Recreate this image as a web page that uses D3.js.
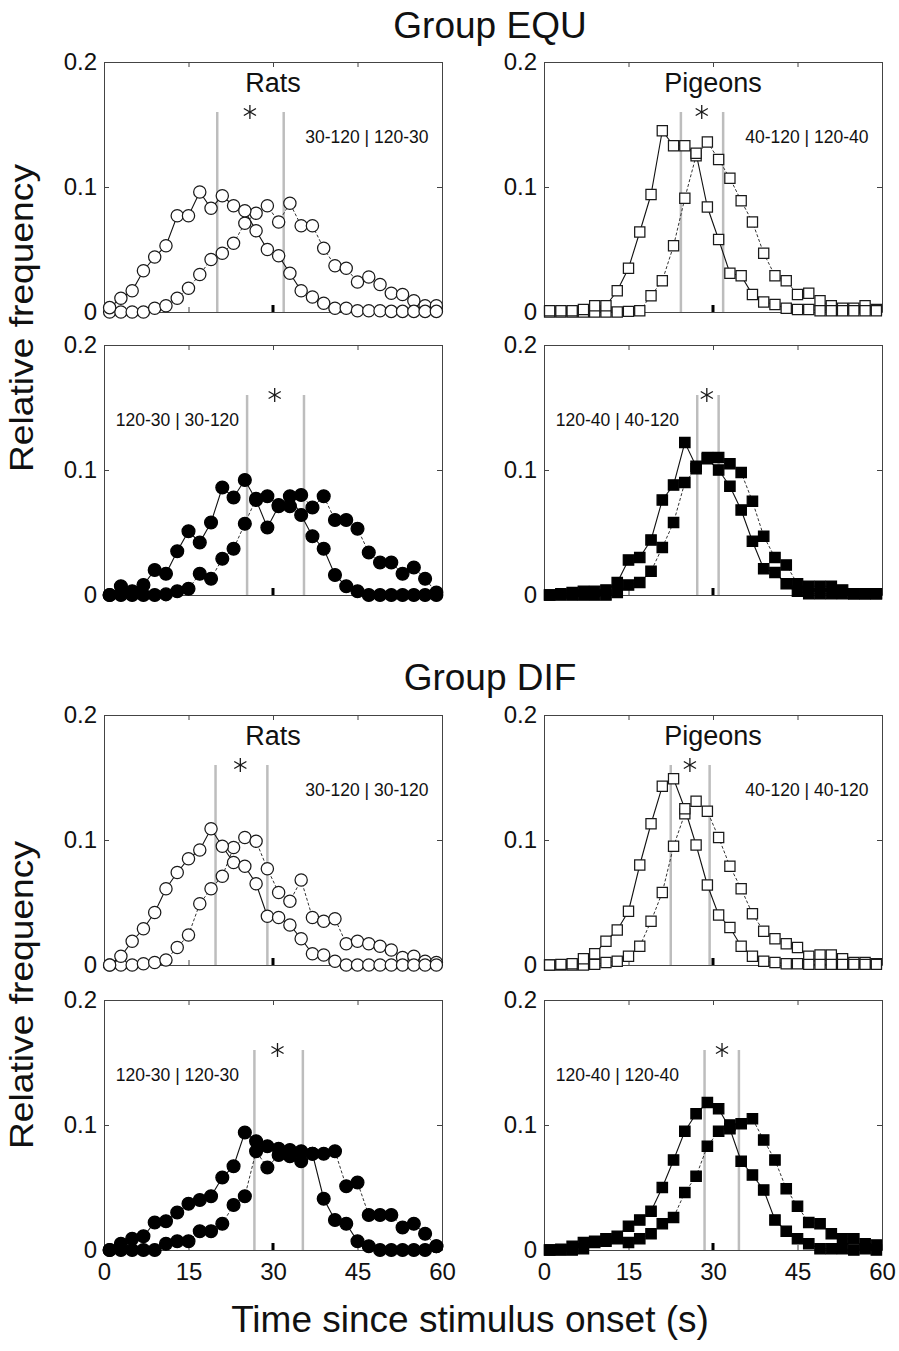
<!DOCTYPE html>
<html>
<head>
<meta charset="utf-8">
<script src="https://cdn.jsdelivr.net/npm/d3@7"></script>
<style>
body { margin: 0; background: #fff; }
text { font-family: "Liberation Sans", Arial, Helvetica, sans-serif; fill: #111; }
</style>
</head>
<body>
<div class="graph"></div>
<script>
// Time bins (s)
var times = [1, 3, 5, 7, 9, 11, 13, 15, 17, 19, 21, 23, 25, 27, 29,
             31, 33, 35, 37, 39, 41, 43, 45, 47, 49, 51, 53, 55, 57, 59];

var xTicks = [0, 15, 30, 45, 60];
var xTickLabels = ["0", "15", "30", "45", "60"];
var yTicks = [0, 0.1, 0.2];
var yTickLabels = ["0", "0.1", "0.2"];

var groupTitles = ["Group EQU", "Group DIF"];
var speciesNames = ["Rats", "Pigeons"];
var conditionLabels = [
    "30-120 | 120-30", "40-120 | 120-40",
    "120-30 | 30-120", "120-40 | 40-120",
    "30-120 | 30-120", "40-120 | 40-120",
    "120-30 | 120-30", "120-40 | 120-40"
];

// Grey vertical lines and asterisk position per panel
var greyLines = [[20.1, 31.9], [24.3, 31.8], [25.4, 35.5], [27.2, 31.0],
                 [19.8, 29.0], [22.5, 29.4], [26.7, 35.3], [28.5, 34.6]];
var asteriskTimes = [25.9, 28.0, 30.3, 28.9, 24.2, 25.9, 30.8, 31.6];
var greyTop = 0.16;
var referenceTime = 30;

// Group EQU
var equRatsOpenSolid = [0.0035, 0.011, 0.017, 0.033, 0.044, 0.053, 0.077, 0.077, 0.096, 0.083, 0.093, 0.085, 0.081, 0.065, 0.050,
                        0.045, 0.031, 0.017, 0.012, 0.007, 0.003, 0.003, 0.001, 0.001, 0.001, 0.0005, 0.0005, 0.0005, 0.0005, 0.0005];
var equRatsOpenDashed = [0, 0, 0, 0, 0.003, 0.005, 0.011, 0.019, 0.030, 0.042, 0.047, 0.055, 0.071, 0.079, 0.085,
                         0.072, 0.087, 0.069, 0.069, 0.051, 0.037, 0.035, 0.024, 0.028, 0.022, 0.015, 0.014, 0.009, 0.005, 0.005];
var equPigeonsOpenSolid = [0.001, 0.001, 0.001, 0.002, 0.005, 0.005, 0.017, 0.035, 0.064, 0.094, 0.145, 0.133, 0.133, 0.127, 0.084,
                           0.058, 0.031, 0.029, 0.014, 0.008, 0.006, 0.003, 0.002, 0.002, 0.001, 0.001, 0.001, 0.001, 0.001, 0.001];
var equPigeonsOpenDashed = [0, 0, 0, 0, 0, 0, 0, 0.0005, 0.001, 0.013, 0.025, 0.053, 0.091, 0.125, 0.136,
                            0.122, 0.107, 0.089, 0.072, 0.047, 0.029, 0.025, 0.014, 0.015, 0.009, 0.005, 0.003, 0.003, 0.005, 0.002];
var equRatsFilledSolid = [0, 0.007, 0.003, 0.008, 0.020, 0.017, 0.035, 0.051, 0.042, 0.058, 0.086, 0.078, 0.092, 0.076, 0.054,
                          0.071, 0.079, 0.064, 0.047, 0.037, 0.016, 0.007, 0.003, 0, 0, 0, 0, 0, 0, 0];
var equRatsFilledDashed = [0, 0, 0, 0, 0, 0.0005, 0.003, 0.005, 0.017, 0.013, 0.029, 0.037, 0.057, 0.077, 0.079,
                           0.072, 0.071, 0.080, 0.070, 0.079, 0.060, 0.060, 0.053, 0.034, 0.026, 0.026, 0.017, 0.022, 0.013, 0.002];
var equPigeonsFilledSolid = [0, 0.001, 0.002, 0.003, 0.003, 0.004, 0.010, 0.028, 0.030, 0.044, 0.076, 0.088, 0.122, 0.103, 0.109,
                             0.100, 0.087, 0.068, 0.043, 0.021, 0.018, 0.009, 0.003, 0.001, 0.001, 0.001, 0.001, 0.001, 0.001, 0.001];
var equPigeonsFilledDashed = [0, 0, 0, 0, 0, 0, 0.002, 0.008, 0.010, 0.019, 0.038, 0.058, 0.090, 0.101, 0.110,
                              0.110, 0.105, 0.098, 0.075, 0.047, 0.030, 0.024, 0.009, 0.007, 0.007, 0.007, 0.004, 0.001, 0.001, 0.001];

// Group DIF
var difRatsOpenSolid = [0, 0.007, 0.019, 0.029, 0.042, 0.061, 0.074, 0.085, 0.092, 0.109, 0.095, 0.082, 0.079, 0.065, 0.039,
                        0.038, 0.032, 0.021, 0.009, 0.008, 0.003, 0, 0, 0, 0, 0, 0, 0, 0, 0];
var difRatsOpenDashed = [0, 0, 0, 0.001, 0.002, 0.004, 0.014, 0.024, 0.049, 0.061, 0.071, 0.094, 0.102, 0.099, 0.077,
                         0.058, 0.051, 0.068, 0.038, 0.035, 0.037, 0.017, 0.019, 0.017, 0.015, 0.012, 0.006, 0.007, 0.003, 0.002];
var difPigeonsOpenSolid = [0, 0.0005, 0.001, 0.005, 0.009, 0.019, 0.028, 0.043, 0.080, 0.113, 0.143, 0.149, 0.125, 0.096, 0.064,
                           0.040, 0.030, 0.015, 0.007, 0.003, 0.002, 0.001, 0.001, 0.0005, 0.0005, 0.0005, 0.0005, 0.0005, 0.0005, 0.0005];
var difPigeonsOpenDashed = [0, 0, 0, 0, 0.0005, 0.002, 0.003, 0.007, 0.015, 0.035, 0.058, 0.095, 0.121, 0.131, 0.123,
                            0.102, 0.079, 0.061, 0.041, 0.027, 0.021, 0.017, 0.014, 0.007, 0.008, 0.008, 0.005, 0.002, 0.002, 0.001];
var difRatsFilledSolid = [0, 0.005, 0.009, 0.011, 0.022, 0.023, 0.030, 0.037, 0.040, 0.043, 0.058, 0.067, 0.094, 0.087, 0.083,
                          0.081, 0.080, 0.079, 0.077, 0.041, 0.024, 0.021, 0.007, 0.003, 0, 0, 0, 0, 0, 0.003];
var difRatsFilledDashed = [0, 0, 0, 0, 0, 0.005, 0.007, 0.007, 0.015, 0.015, 0.021, 0.036, 0.043, 0.079, 0.066,
                           0.076, 0.075, 0.071, 0.077, 0.077, 0.079, 0.051, 0.054, 0.028, 0.028, 0.028, 0.018, 0.021, 0.013, 0.003];
var difPigeonsFilledSolid = [0, 0.0005, 0.003, 0.006, 0.006, 0.007, 0.011, 0.019, 0.024, 0.031, 0.050, 0.072, 0.095, 0.109, 0.118,
                             0.113, 0.097, 0.071, 0.060, 0.048, 0.024, 0.015, 0.009, 0.005, 0.001, 0.001, 0.001, 0, 0.001, 0];
var difPigeonsFilledDashed = [0, 0, 0, 0.001, 0.007, 0.009, 0.009, 0.006, 0.009, 0.013, 0.021, 0.026, 0.046, 0.059, 0.083,
                              0.095, 0.100, 0.101, 0.105, 0.088, 0.072, 0.049, 0.035, 0.022, 0.021, 0.013, 0.009, 0.009, 0.005, 0.004];

// Layout
var width = 899, height = 1351;
var colX = [104, 544];
var rowY = [62, 345, 715, 1000];
var panelW = 338, panelH = 250;
var axisColour = "#444";
var greyColour = "#bdbdbd";

var svg = d3.select(".graph").append("svg")
    .attr("width", width)
    .attr("height", height)
    .style("display", "block");

var panels = [
    {row: 0, col: 0, solid: equRatsOpenSolid, dashed: equRatsOpenDashed, shape: d3.symbolCircle, filled: false},
    {row: 0, col: 1, solid: equPigeonsOpenSolid, dashed: equPigeonsOpenDashed, shape: d3.symbolSquare, filled: false},
    {row: 1, col: 0, solid: equRatsFilledSolid, dashed: equRatsFilledDashed, shape: d3.symbolCircle, filled: true},
    {row: 1, col: 1, solid: equPigeonsFilledSolid, dashed: equPigeonsFilledDashed, shape: d3.symbolSquare, filled: true},
    {row: 2, col: 0, solid: difRatsOpenSolid, dashed: difRatsOpenDashed, shape: d3.symbolCircle, filled: false},
    {row: 2, col: 1, solid: difPigeonsOpenSolid, dashed: difPigeonsOpenDashed, shape: d3.symbolSquare, filled: false},
    {row: 3, col: 0, solid: difRatsFilledSolid, dashed: difRatsFilledDashed, shape: d3.symbolCircle, filled: true},
    {row: 3, col: 1, solid: difPigeonsFilledSolid, dashed: difPigeonsFilledDashed, shape: d3.symbolSquare, filled: true}
];

var x = d3.scaleLinear().domain([0, 60]).range([0, panelW]);
var y = d3.scaleLinear().domain([0, 0.2]).range([panelH, 0]);

function styleAxis(sel) {
    sel.select(".domain").attr("stroke", axisColour);
    sel.selectAll(".tick line").attr("stroke", axisColour);
    sel.selectAll(".tick text")
        .style("font-family", '"Liberation Sans", Arial, sans-serif')
        .style("font-size", "24px")
        .attr("fill", "#111");
}

function render(p, i) {
    var g = svg.append("g")
        .attr("transform", "translate(" + colX[p.col] + "," + rowY[p.row] + ")");

    // grey criterion lines
    g.selectAll(".grey")
        .data(greyLines[i])
        .enter().append("line")
        .attr("x1", function(d) { return x(d); })
        .attr("x2", function(d) { return x(d); })
        .attr("y1", y(0))
        .attr("y2", y(greyTop))
        .attr("stroke", greyColour)
        .attr("stroke-width", 2.5);

    // axes (box)
    g.append("g")
        .call(d3.axisLeft(y).tickValues(yTicks).tickFormat(function(d, k) { return yTickLabels[k]; })
            .tickSizeInner(-5).tickSizeOuter(0).tickPadding(7))
        .call(styleAxis);
    g.append("g")
        .attr("transform", "translate(" + panelW + ",0)")
        .call(d3.axisRight(y).tickValues(yTicks).tickFormat("").tickSizeInner(-5).tickSizeOuter(0))
        .call(styleAxis);
    g.append("g")
        .call(d3.axisTop(x).tickValues(xTicks).tickFormat("").tickSizeInner(-5).tickSizeOuter(0))
        .call(styleAxis);
    var bottom = d3.axisBottom(x).tickValues(xTicks).tickSizeInner(-5).tickSizeOuter(0).tickPadding(13);
    if (p.row === 3) bottom.tickFormat(function(d, k) { return xTickLabels[k]; });
    else bottom.tickFormat("");
    g.append("g")
        .attr("transform", "translate(0," + panelH + ")")
        .call(bottom)
        .call(styleAxis);

    // reference mark at 30 s
    g.append("rect")
        .attr("x", x(referenceTime) - 1.5)
        .attr("y", y(0) - 7)
        .attr("width", 3)
        .attr("height", 7)
        .attr("fill", "#000");

    var line = d3.line()
        .x(function(d, k) { return x(times[k]); })
        .y(function(d) { return y(d); });

    g.append("path")
        .attr("d", line(p.dashed))
        .attr("fill", "none")
        .attr("stroke", "#333")
        .attr("stroke-width", 1)
        .attr("stroke-dasharray", "3,2");
    g.append("path")
        .attr("d", line(p.solid))
        .attr("fill", "none")
        .attr("stroke", "#111")
        .attr("stroke-width", 1.1);

    var circle = p.shape === d3.symbolCircle;
    var symbol = d3.symbol().type(p.shape)
        .size(circle ? (p.filled ? 130 : 118) : (p.filled ? 108 : 104));

    [p.dashed, p.solid].forEach(function(series) {
        g.append("g").selectAll("path")
            .data(series)
            .enter().append("path")
            .attr("transform", function(d, k) { return "translate(" + x(times[k]) + "," + y(d) + ")"; })
            .attr("d", symbol)
            .attr("fill", p.filled ? "#000" : "#fff")
            .attr("stroke", p.filled ? "#000" : "#1a1a1a")
            .attr("stroke-width", 1.25);
    });

    // asterisk
    var ast = g.append("g")
        .attr("transform", "translate(" + x(asteriskTimes[i]) + "," + y(greyTop) + ")");
    [90, 30, -30].forEach(function(a) {
        var r = a * Math.PI / 180, len = 7;
        ast.append("line")
            .attr("x1", -len * Math.cos(r)).attr("y1", -len * Math.sin(r))
            .attr("x2", len * Math.cos(r)).attr("y2", len * Math.sin(r))
            .attr("stroke", "#1a1a1a")
            .attr("stroke-width", 1.3);
    });

    // species title on top rows of each group
    if (p.row === 0 || p.row === 2) {
        g.append("text")
            .attr("x", x(30))
            .attr("y", y(0.176))
            .attr("text-anchor", "middle")
            .style("font-size", "27px")
            .text(speciesNames[p.col]);
    }

    // condition label
    var topRow = (p.row === 0 || p.row === 2);
    g.append("text")
        .attr("x", topRow ? x(57.6) : x(2.1))
        .attr("y", y(0.135))
        .attr("text-anchor", topRow ? "end" : "start")
        .style("font-size", "17.5px")
        .text(conditionLabels[i]);
}

panels.forEach(render);

// group titles
svg.selectAll(".group")
    .data(groupTitles)
    .enter().append("text")
    .attr("x", 490)
    .attr("y", function(d, i) { return i === 0 ? 38 : 690; })
    .attr("text-anchor", "middle")
    .style("font-size", "37px")
    .text(function(d) { return d; });

// y labels
[318, 995].forEach(function(cy) {
    svg.append("text")
        .attr("transform", "translate(33," + cy + ") rotate(-90)")
        .attr("text-anchor", "middle")
        .attr("textLength", 308)
        .attr("lengthAdjust", "spacingAndGlyphs")
        .style("font-size", "33px")
        .text("Relative frequency");
});

// x label
svg.append("text")
    .attr("x", 470)
    .attr("y", 1332)
    .attr("text-anchor", "middle")
    .style("font-size", "37px")
    .text("Time since stimulus onset (s)");
</script>
</body>
</html>
